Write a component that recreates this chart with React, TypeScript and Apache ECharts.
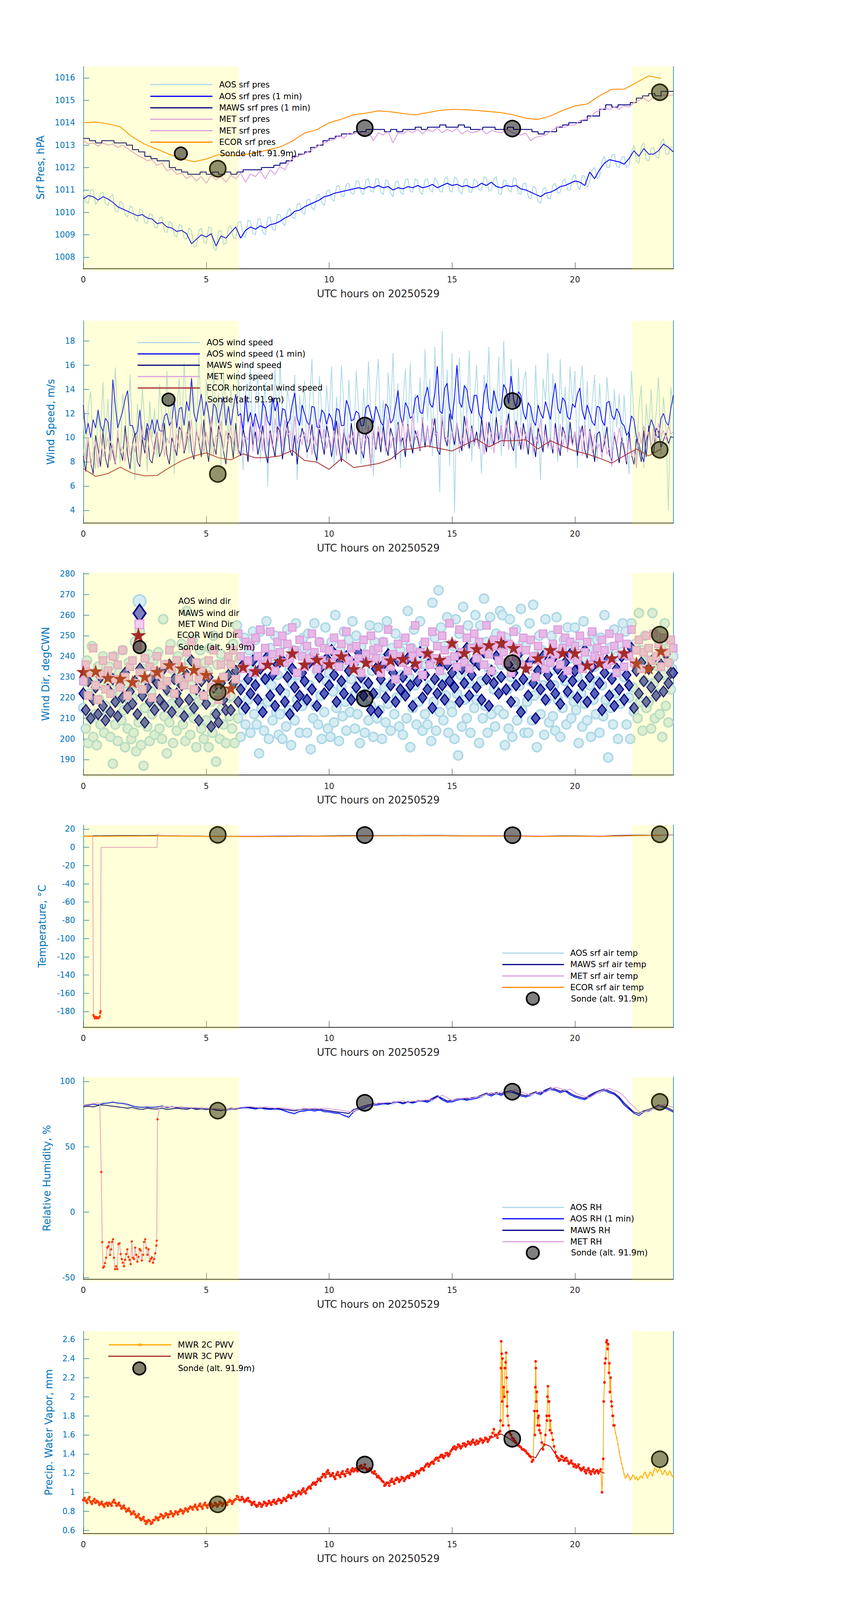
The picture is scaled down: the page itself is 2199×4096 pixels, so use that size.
import React, { useEffect, useRef } from 'react';
import * as echarts from 'echarts';

const FONT = 'DejaVu Sans';
const AXIS_BLUE = '#0072BD';
const DARK = '#262626';
const C_AOS = '#ADD8E6';
const C_AOS1 = '#0000FF';
const C_MAWS = '#000080';
const C_MET = '#DDA0DD';
const C_ECOR = '#FF8C00';
const C_BROWN = '#A52A2A';
const C_ORANGE = '#FFA500';
const C_FLAG = '#FF1A00';
const SONDE = 'Sonde (alt. 91.9m)';
const STAR = 'path://M50,0 L61.2,34.5 L97.6,34.5 L68.2,55.9 L79.4,90.5 L50,69.1 L20.6,90.5 L31.8,55.9 L2.4,34.5 L38.8,34.5 Z';
const ASTER = 'path://M50,0 L58,35 L93,25 L66,50 L93,75 L58,65 L50,100 L42,65 L7,75 L34,50 L7,25 L42,35 Z';

// sampling grids (hours UTC)
const hoursGrid = (start: number, step: number, n: number) =>
  Array.from({ length: n }, (_, i) => Math.round((start + i * step) * 1000) / 1000);
const H005 = hoursGrid(0, 0.05, 481);
const H01 = hoursGrid(0, 0.1, 241);
const H01_MID = hoursGrid(0.05, 0.1, 240);
const H02 = hoursGrid(0, 0.2, 121);
const H02_MID = hoursGrid(0.1, 0.2, 120);
const H025 = hoursGrid(0, 0.25, 97);
const H05 = hoursGrid(0, 0.5, 49);

const X_TICKS = [0, 5, 10, 15, 20];
const SHADE = [[0, 6.34], [22.33, 24]];

// ---------- Panel 1: surface pressure ----------
const Y_TICKS_PRES = [1008, 1009, 1010, 1011, 1012, 1013, 1014, 1015, 1016];
const PRES_AOS = [
  1010.9, 1010.4, 1011.0, 1010.5, 1010.9, 1010.3, 1010.8, 1010.0, 1010.4, 1009.8,
  1010.2, 1009.6, 1010.1, 1009.5, 1009.9, 1009.3, 1009.8, 1009.1, 1009.5, 1008.9,
  1009.4, 1008.8, 1009.2, 1008.5, 1009.3, 1008.6, 1009.3, 1008.3, 1009.2, 1008.6,
  1009.4, 1008.8, 1009.6, 1008.9, 1009.6, 1009.0, 1009.7, 1009.0, 1009.8, 1009.2,
  1009.9, 1009.4, 1010.2, 1009.7, 1010.4, 1009.9, 1010.6, 1010.1, 1010.8, 1010.3,
  1011.0, 1010.5, 1011.2, 1010.7, 1011.3, 1010.8, 1011.4, 1010.8, 1011.5, 1010.9,
  1011.5, 1010.8, 1011.4, 1010.7, 1011.4, 1010.8, 1011.5, 1010.9, 1011.4, 1010.8,
  1011.5, 1010.9, 1011.4, 1010.9, 1011.6, 1010.9, 1011.5, 1010.8, 1011.5, 1010.9,
  1011.4, 1011.0, 1011.5, 1011.0, 1011.6, 1010.8, 1011.4, 1010.9, 1011.5, 1010.8,
  1011.3, 1010.6, 1011.1, 1010.4, 1011.1, 1010.6, 1011.3, 1010.9, 1011.5, 1011.0,
  1011.7, 1011.0, 1011.6, 1011.4, 1012.0, 1011.6, 1012.5, 1012.0, 1012.6, 1012.0,
  1012.5, 1012.1, 1013.0, 1012.2, 1013.1, 1012.3, 1012.9, 1012.4, 1013.3, 1012.6,
  1012.9,
];
const PRES_AOS_MID = [
  1010.45, 1011.0, 1010.35, 1010.85, 1010.4, 1010.7, 1010.05, 1010.5, 1009.9, 1010.3,
  1009.7, 1010.15, 1009.55, 1009.95, 1009.35, 1009.75, 1009.15, 1009.6, 1009.0, 1009.45,
  1008.85, 1009.3, 1008.45, 1009.2, 1008.7, 1009.35, 1008.4, 1009.15, 1008.6, 1009.3,
  1008.9, 1009.55, 1008.95, 1009.65, 1009.05, 1009.7, 1009.1, 1009.75, 1009.25, 1009.9,
  1009.55, 1010.05, 1009.8, 1010.35, 1010.0, 1010.55, 1010.2, 1010.75, 1010.45, 1010.95,
  1010.6, 1011.15, 1010.75, 1011.25, 1010.85, 1011.4, 1010.9, 1011.45, 1010.95, 1011.5,
  1010.9, 1011.45, 1010.85, 1011.35, 1010.9, 1011.45, 1010.95, 1011.5, 1010.9, 1011.45,
  1011.0, 1011.55, 1010.95, 1011.5, 1011.0, 1011.55, 1010.95, 1011.45, 1010.9, 1011.5,
  1011.0, 1011.6, 1010.95, 1011.5, 1010.85, 1011.45, 1011.0, 1011.55, 1010.85, 1011.3,
  1010.7, 1011.15, 1010.5, 1011.05, 1010.65, 1011.2, 1010.85, 1011.4, 1011.0, 1011.55,
  1011.2, 1011.65, 1011.1, 1011.9, 1011.5, 1012.3, 1012.0, 1012.55, 1012.05, 1012.45,
  1012.0, 1012.7, 1012.3, 1012.95, 1012.35, 1012.85, 1012.5, 1013.1, 1012.6, 1012.95,
];
const PRES_AOS_1MIN = [
  1010.6, 1010.75, 1010.7, 1010.55, 1010.7, 1010.6, 1010.45, 1010.25, 1010.15, 1010.05,
  1009.95, 1009.85, 1009.9, 1009.75, 1009.7, 1009.5, 1009.55, 1009.35, 1009.3, 1009.15,
  1009.2, 1009.05, 1008.6, 1008.8, 1009.0, 1008.9, 1009.05, 1008.5, 1008.95, 1008.85,
  1009.1, 1009.35, 1008.85, 1009.2, 1009.35, 1009.25, 1009.4, 1009.3, 1009.45, 1009.5,
  1009.6, 1009.75, 1009.85, 1010.05, 1010.1, 1010.25, 1010.35, 1010.45, 1010.55, 1010.7,
  1010.75, 1010.85, 1010.9, 1010.95, 1011.0, 1011.05, 1011.1, 1011.05, 1011.15, 1011.1,
  1011.2, 1011.1, 1011.15, 1011.0, 1011.1, 1011.05, 1011.15, 1011.1, 1011.2, 1011.1,
  1011.15, 1011.25, 1011.1, 1011.2, 1011.3, 1011.2, 1011.25, 1011.15, 1011.2, 1011.1,
  1011.15, 1011.3, 1011.2, 1011.35, 1011.15, 1011.1, 1011.2, 1011.15, 1011.2, 1011.05,
  1011.0, 1010.9, 1010.8, 1010.7, 1010.85, 1010.9, 1011.0, 1011.15, 1011.2, 1011.3,
  1011.4, 1011.35, 1011.2, 1011.8, 1011.5, 1011.9, 1012.2, 1012.35, 1012.3, 1012.25,
  1012.15, 1012.4, 1012.75, 1012.5, 1012.85, 1012.6, 1012.6, 1012.75, 1013.05, 1012.9,
  1012.7,
];
const PRES_MAWS = [
  1013.3, 1013.2, 1013.1, 1013.2, 1013.2, 1013.1, 1013.1, 1013.0,
  1012.8, 1012.7, 1012.5, 1012.4, 1012.3, 1012.3, 1012.0, 1011.9,
  1011.8, 1011.7, 1011.7, 1011.8, 1011.7, 1011.8, 1011.7, 1011.8,
  1011.7, 1011.8, 1011.9, 1011.9, 1011.9, 1012.0, 1012.0, 1012.1,
  1012.2, 1012.3, 1012.5, 1012.6, 1012.7, 1012.9, 1013.0, 1013.2,
  1013.3, 1013.4, 1013.5, 1013.5, 1013.6, 1013.6, 1013.7, 1013.7,
  1013.7, 1013.6, 1013.7, 1013.6, 1013.7, 1013.7, 1013.8, 1013.7,
  1013.8, 1013.8, 1013.9, 1013.8, 1013.8, 1013.9, 1013.8, 1013.7,
  1013.7, 1013.8, 1013.8, 1013.7, 1013.7, 1013.8, 1013.7, 1013.7,
  1013.7, 1013.6, 1013.5, 1013.6, 1013.6, 1013.8, 1013.9, 1014.0,
  1014.0, 1014.1, 1014.3, 1014.3, 1014.6, 1014.8, 1014.7, 1014.8,
  1014.8, 1014.9, 1015.1, 1015.2, 1015.3, 1015.2, 1015.4, 1015.4,
  1015.4,
];
const PRES_MET = [
  1013.2, 1013.05, 1013.1, 1012.95, 1013.1, 1013.0, 1013.05, 1012.9, 1013.0, 1012.85,
  1012.7, 1012.55, 1012.45, 1012.3, 1012.35, 1012.1, 1012.2, 1011.85, 1011.95, 1011.7,
  1011.75, 1011.5, 1011.65, 1011.4, 1011.6, 1011.3, 1011.65, 1011.45, 1011.6, 1011.35,
  1011.65, 1011.5, 1011.75, 1011.35, 1011.7, 1011.6, 1011.85, 1011.5, 1011.9, 1011.7,
  1012.05, 1011.9, 1012.3, 1012.45, 1012.55, 1012.6, 1012.75, 1012.85, 1013.0, 1013.1,
  1013.2, 1013.25, 1013.45, 1013.3, 1013.55, 1013.5, 1013.6, 1013.45, 1013.6, 1013.2,
  1013.55, 1013.45, 1013.6, 1013.1, 1013.55, 1013.5, 1013.65, 1013.55, 1013.7, 1013.5,
  1013.7, 1013.6, 1013.75, 1013.55, 1013.7, 1013.6, 1013.75, 1013.5, 1013.65, 1013.55,
  1013.6, 1013.7, 1013.5, 1013.65, 1013.6, 1013.55, 1013.7, 1013.6, 1013.5, 1013.45,
  1013.55, 1013.2, 1013.35, 1013.4, 1013.45, 1013.6, 1013.75, 1013.85, 1013.8, 1013.9,
  1013.9, 1014.1, 1014.15, 1014.2, 1014.45, 1014.55, 1014.65, 1014.6, 1014.7, 1014.6,
  1014.75, 1014.7, 1014.9, 1015.0, 1015.1, 1014.95, 1015.15, 1015.05, 1015.25, 1015.2,
  1015.25,
];
const PRES_ECOR = [
  1014.0, 1014.03, 1013.95, 1013.82, 1013.36, 1013.04, 1012.82, 1012.59, 1012.4, 1012.26,
  1012.38, 1012.58, 1012.53, 1012.56, 1012.67, 1012.78, 1012.92, 1013.18, 1013.54, 1013.69,
  1014.0, 1014.16, 1014.36, 1014.43, 1014.53, 1014.49, 1014.41, 1014.35, 1014.45, 1014.55,
  1014.6, 1014.58, 1014.55, 1014.5, 1014.45, 1014.35, 1014.2, 1014.15, 1014.3, 1014.55,
  1014.75, 1014.84, 1015.2, 1015.49, 1015.5, 1015.79, 1016.09, 1015.98,
];
const PRES_SONDE = [[5.47, 1011.95], [11.45, 1013.76], [17.45, 1013.74], [23.45, 1015.36]];

// ---------- Panel 2: wind speed (0.1 h samples) ----------
const Y_TICKS_WS = [4, 6, 8, 10, 12, 14, 16, 18];
const WS_AOS = [
  11.5, 8.2, 12.6, 13.8, 9.1, 7.4, 12.0, 10.3, 14.6, 9.0,
  13.2, 8.5, 10.7, 15.8, 11.0, 7.9, 13.6, 12.1, 8.8, 15.2,
  10.4, 6.5, 12.8, 9.6, 14.1, 11.3, 7.2, 13.0, 10.0, 12.4,
  8.3, 14.4, 11.6, 9.4, 15.5, 10.8, 13.3, 7.0, 12.2, 14.9,
  9.8, 16.2, 12.5, 8.7, 15.0, 13.6, 10.2, 16.8, 11.4, 9.3,
  14.8, 12.0, 8.4, 16.0, 10.9, 13.7, 7.6, 15.3, 12.6, 9.9,
  14.2, 10.6, 8.9, 15.6, 12.3, 7.3, 13.9, 11.1, 16.1, 9.5,
  12.8, 15.4, 8.0, 11.7, 14.6, 6.0, 13.2, 10.4, 15.8, 9.2,
  16.4, 11.9, 8.6, 14.0, 12.7, 9.7, 15.2, 6.5, 13.5, 11.0,
  14.7, 8.3, 12.9, 16.5, 10.6, 7.9, 15.1, 12.2, 9.4, 14.3,
  11.6, 15.9, 7.5, 13.4, 10.1, 16.0, 12.6, 8.1, 14.8, 11.3,
  9.0, 15.5, 12.4, 7.8, 14.1, 10.7, 16.3, 12.0, 6.8, 13.7,
  16.5, 10.3, 13.1, 8.6, 15.4, 11.8, 17.0, 9.4, 14.5, 7.5,
  12.9, 15.7, 10.0, 16.2, 8.8, 13.6, 11.2, 15.0, 9.6, 17.3,
  11.4, 14.9, 8.5, 17.5, 12.1, 5.5, 18.8, 10.2, 15.6, 7.7,
  17.0, 3.8, 13.9, 16.6, 9.1, 14.4, 11.7, 17.2, 8.0, 13.0,
  16.0, 10.5, 7.0, 15.2, 12.8, 17.5, 9.0, 14.1, 11.6, 16.7,
  8.5, 18.0, 12.3, 9.5, 16.5, 13.2, 7.5, 15.8, 11.0, 14.6,
  15.5, 9.8, 12.7, 8.5, 16.0, 11.4, 6.5, 14.9, 13.1, 17.0,
  9.0, 15.3, 12.0, 8.0, 16.5, 10.9, 14.2, 9.5, 15.9, 12.6,
  15.5, 7.5, 13.8, 16.0, 10.2, 14.7, 9.0, 12.9, 15.2, 8.0,
  14.5, 11.3, 9.5, 15.0, 12.2, 8.5, 14.0, 10.8, 13.6, 9.2,
  13.5, 10.0, 7.0, 15.5, 11.6, 8.0, 12.5, 14.3, 7.5, 12.8,
  10.5, 14.0, 9.5, 12.0, 15.0, 8.6, 13.4, 11.0, 4.0, 14.2,
  12.5,
];
const WS_AOS_1MIN = [
  12.7, 10.3, 11.2, 10.0, 11.5, 10.8, 12.3, 11.0, 10.5, 11.6,
  11.3, 9.7, 14.8, 12.7, 10.8, 11.5, 12.2, 13.2, 13.9, 11.0,
  11.0, 10.2, 10.5, 12.3, 10.0, 9.8, 11.2, 10.5, 11.5, 10.3,
  11.5, 10.6, 10.5, 11.8, 12.0, 11.0, 11.4, 13.0, 10.8, 12.4,
  12.5, 11.0, 13.0, 12.2, 14.9, 12.0, 11.3, 12.5, 13.6, 11.8,
  13.0, 11.9, 10.5, 12.8, 12.5, 11.2, 12.3, 13.4, 11.0, 12.6,
  11.0, 12.4, 13.6, 11.8, 12.0, 10.6, 13.5, 11.3, 12.1, 10.9,
  12.0, 11.2, 10.5, 12.9, 12.5, 11.4, 11.0, 13.3, 12.2, 13.0,
  10.5, 12.4, 12.3, 11.1, 11.5, 12.8, 13.7, 11.6, 11.0, 12.7,
  12.0, 11.3, 11.0, 12.6, 12.5, 10.9, 10.8, 12.3, 12.0, 11.1,
  12.0, 11.6, 10.5, 12.4, 12.3, 11.0, 11.0, 13.1, 12.5, 11.4,
  11.5, 12.2, 12.0, 11.0, 11.0, 12.5, 12.7, 11.9, 11.2, 12.6,
  12.0, 11.3, 11.0, 12.8, 12.5, 11.2, 11.5, 12.6, 13.9, 11.8,
  11.0, 12.9, 12.5, 11.6, 11.8, 13.2, 13.5, 12.1, 12.0, 13.4,
  14.2, 12.8, 12.5, 13.6, 15.9, 12.2, 12.0, 14.1, 14.5, 12.4,
  11.5, 13.3, 16.0, 12.9, 12.5, 14.3, 14.0, 12.6, 12.0, 13.5,
  13.5, 12.0, 11.5, 13.6, 14.5, 12.4, 12.0, 13.9, 13.0, 12.2,
  12.5, 14.4, 14.0, 12.8, 15.1, 13.2, 12.5, 13.8, 13.5, 12.1,
  11.5, 12.9, 12.5, 11.4, 11.0, 12.7, 12.0, 11.6, 13.0, 12.3,
  11.5, 13.2, 14.5, 12.4, 12.0, 13.3, 13.0, 11.7, 11.5, 12.8,
  12.5, 13.6, 14.1, 12.2, 11.5, 12.7, 12.0, 11.3, 11.0, 12.6,
  12.5, 11.4, 11.0, 12.9, 13.0, 11.8, 11.5, 12.4, 12.0, 11.2,
  11.0, 10.2, 10.5, 11.8, 11.5, 10.1, 9.5, 8.6, 8.0, 9.8,
  10.5, 11.5, 11.0, 10.2, 10.0, 11.6, 12.0, 11.3, 11.0, 12.4,
  13.5,
];
const WS_MAWS = [
  8.5, 7.2, 9.8, 8.0, 7.0, 10.2, 9.1, 7.6, 10.5, 8.3,
  7.5, 9.6, 8.8, 7.8, 10.0, 9.0, 8.1, 11.0, 8.6, 7.4,
  9.5, 10.4, 8.0, 7.6, 9.9, 8.7, 10.8, 8.2, 7.9, 9.4,
  10.5, 8.4, 9.0, 11.2, 8.6, 7.8, 10.0, 9.3, 8.5, 10.9,
  10.5, 8.7, 9.6, 11.4, 9.0, 8.2, 10.6, 9.8, 8.4, 11.5,
  9.2, 8.0, 10.8, 9.5, 8.6, 11.0, 10.1, 8.9, 7.8, 10.4,
  10.0, 8.3, 11.2, 9.1, 8.5, 10.7, 9.8, 8.0, 11.3, 9.4,
  10.5, 8.6, 9.7, 11.0, 8.8, 7.9, 10.6, 9.5, 8.4, 10.9,
  10.5, 8.2, 9.9, 11.3, 9.0, 8.5, 10.2, 7.8, 9.6, 10.8,
  10.0, 8.8, 9.4, 11.1, 8.9, 8.1, 10.7, 9.7, 8.6, 11.0,
  10.0, 8.4, 9.8, 11.4, 9.2, 8.0, 10.5, 9.6, 8.7, 11.2,
  9.5, 8.6, 10.9, 9.1, 8.3, 10.4, 9.9, 7.6, 10.6, 9.0,
  10.5, 8.8, 11.0, 9.4, 8.5, 10.8, 10.0, 8.2, 11.3, 9.5,
  10.0, 8.4, 11.1, 9.7, 8.7, 10.6, 9.9, 8.9, 11.4, 9.2,
  11.0, 9.2, 10.3, 11.6, 9.0, 8.6, 11.5, 10.1, 9.3, 12.0,
  10.5, 9.4, 11.2, 9.8, 8.9, 11.8, 10.4, 9.1, 11.0, 9.6,
  10.5, 9.1, 11.6, 10.0, 8.8, 11.3, 10.2, 9.4, 11.7, 9.8,
  11.0, 9.3, 10.6, 12.0, 9.5, 8.9, 11.4, 10.3, 9.0, 11.2,
  10.0, 8.6, 11.0, 9.7, 8.4, 10.8, 9.9, 8.8, 11.1, 9.3,
  10.0, 8.7, 11.2, 9.6, 8.5, 10.9, 10.2, 9.0, 11.3, 9.5,
  10.5, 8.5, 10.1, 11.0, 9.0, 8.3, 10.7, 9.6, 8.0, 10.3,
  10.5, 8.8, 9.5, 10.9, 8.6, 8.1, 10.2, 9.2, 7.9, 10.0,
  9.0, 7.8, 10.5, 8.6, 7.8, 9.9, 9.0, 8.0, 10.6, 8.4,
  11.0, 9.1, 8.7, 10.8, 10.5, 9.2, 9.8, 10.4, 9.5, 10.1,
  10.0,
];
const WS_MET = [
  9.0, 8.2, 10.0, 7.6, 8.8, 9.7, 7.5, 10.3, 8.4, 9.2,
  10.0, 8.1, 9.5, 7.9, 10.6, 8.7, 9.3, 8.0, 10.1, 8.5,
  9.5, 8.8, 10.4, 7.8, 11.0, 9.2, 8.3, 10.7, 9.6, 8.6,
  10.5, 9.0, 11.2, 8.4, 10.0, 9.5, 11.6, 8.8, 10.3, 9.1,
  11.0, 8.9, 10.5, 9.7, 11.5, 8.6, 10.8, 9.4, 11.2, 8.7,
  10.5, 9.3, 11.8, 8.5, 10.2, 9.9, 11.4, 8.9, 10.6, 9.5,
  11.0, 9.4, 10.6, 8.6, 11.7, 9.2, 10.1, 9.8, 11.3, 8.8,
  11.5, 9.6, 10.9, 8.9, 12.0, 9.3, 10.4, 9.1, 11.6, 9.7,
  11.0, 9.2, 11.5, 10.1, 10.6, 9.0, 11.8, 9.5, 10.2, 9.4,
  10.5, 9.6, 11.1, 8.6, 10.1, 9.3, 11.6, 9.8, 10.7, 9.1,
  10.0, 9.2, 10.6, 8.5, 11.2, 9.0, 10.8, 8.6, 10.3, 9.4,
  10.5, 9.1, 11.3, 8.7, 10.4, 9.6, 11.0, 7.5, 10.7, 9.2,
  11.0, 9.7, 10.5, 8.8, 11.6, 9.1, 10.2, 9.6, 11.1, 9.3,
  11.5, 9.5, 11.0, 9.2, 12.0, 9.8, 10.6, 9.0, 11.7, 9.6,
  11.0, 9.3, 11.6, 10.2, 10.5, 9.1, 11.9, 9.7, 10.1, 9.4,
  10.5, 9.8, 11.2, 8.7, 10.2, 9.2, 11.7, 9.6, 10.8, 9.3,
  10.0, 9.1, 10.7, 8.6, 11.3, 9.2, 10.6, 8.7, 10.4, 9.5,
  11.0, 9.4, 11.5, 9.0, 10.6, 9.8, 11.1, 9.3, 10.9, 9.0,
  10.5, 9.7, 11.2, 8.8, 10.1, 9.5, 11.6, 9.4, 10.5, 9.1,
  10.0, 9.0, 10.8, 8.6, 11.1, 9.2, 10.5, 8.8, 10.2, 9.3,
  10.5, 9.2, 10.9, 8.5, 11.0, 9.1, 10.6, 8.7, 10.3, 9.0,
  9.5, 8.3, 10.2, 8.6, 9.2, 7.6, 10.5, 9.4, 10.8, 9.7,
  9.5, 8.0, 10.0, 8.5, 9.0, 7.5, 10.5, 9.5, 11.0, 10.0,
  10.5, 9.2, 10.8, 9.6, 11.2, 10.1, 10.6, 9.8, 11.0, 10.3,
  10.5,
];
const WS_ECOR = [
  7.44, 6.8, 7.03, 7.56, 7.06, 6.84, 6.88, 7.53, 8.1, 8.48,
  8.74, 8.34, 8.17, 8.66, 8.34, 8.36, 8.5, 8.95, 8.12, 7.98,
  7.38, 8.27, 7.53, 7.69, 7.86, 8.22, 9.01, 9.1, 9.32, 9.1,
  8.9, 9.4, 9.9, 9.24, 9.75, 9.75, 9.83, 9.07, 9.75, 9.3,
  8.9, 8.65, 8.3, 7.9, 8.5, 9.07, 8.5, 9.07,
];
const WS_SONDE = [[5.47, 7.0], [11.45, 11.0], [17.45, 13.03], [23.45, 9.0]];

// ---------- Panel 3: wind direction ----------
const Y_TICKS_WD = [190, 200, 210, 220, 230, 240, 250, 260, 270, 280];
const WD_AOS = [
  215, 228, 205, 238, 198, 222, 210, 245, 201, 230, 212, 197, 235, 219, 207, 226, 240, 203, 216, 232,
  212, 235, 201, 224, 188, 240, 207, 218, 199, 232, 222, 209, 243, 214, 196, 227, 205, 237, 218, 200,
  220, 203, 247, 194, 226, 208, 252, 197, 234, 187, 215, 229, 206, 241, 199, 223, 212, 238, 202, 231,
  216, 242, 205, 229, 200, 258, 211, 236, 193, 223, 208, 246, 217, 198, 233, 221, 204, 240, 213, 227,
  246, 207, 231, 199, 262, 214, 238, 202, 226, 248, 210, 221, 196, 235, 218, 243, 205, 229, 200, 237,
  209, 233, 196, 244, 218, 203, 250, 212, 189, 236, 224, 200, 241, 215, 207, 230, 198, 238, 220, 211,
  221, 205, 246, 198, 232, 255, 210, 239, 201, 226, 214, 249, 207, 235, 219, 243, 203, 229, 252, 212,
  248, 207, 235, 193, 252, 215, 240, 204, 229, 257, 218, 200, 244, 226, 209, 236, 250, 213, 231, 202,
  212, 238, 200, 246, 222, 206, 253, 214, 234, 197, 227, 243, 209, 256, 219, 231, 203, 241, 216, 249,
  244, 219, 203, 251, 226, 195, 240, 210, 256, 216, 233, 207, 247, 221, 200, 238, 213, 254, 228, 205,
  232, 201, 247, 223, 208, 260, 215, 238, 199, 243, 225, 211, 252, 218, 204, 236, 248, 213, 229, 257,
  221, 205, 250, 212, 236, 198, 245, 218, 229, 203, 241, 226, 209, 255, 216, 233, 201, 247, 222, 210,
  254, 214, 239, 200, 247, 225, 208, 257, 217, 235, 204, 244, 228, 212, 251, 220, 238, 206, 243, 231,
  202, 248, 222, 210, 262, 230, 196, 244, 215, 253, 226, 207, 239, 218, 257, 233, 204, 246, 212, 236,
  207, 241, 226, 199, 266, 218, 249, 204, 236, 272, 213, 254, 230, 209, 245, 221, 259, 203, 238, 216,
  213, 245, 200, 258, 222, 192, 251, 231, 206, 264, 219, 240, 210, 255, 227, 203, 248, 236, 215, 260,
  219, 240, 198, 255, 228, 210, 268, 216, 247, 203, 234, 259, 212, 243, 224, 206, 251, 230, 214, 262,
  236, 260, 212, 197, 249, 224, 205, 258, 230, 201, 244, 218, 253, 209, 238, 226, 263, 214, 247, 203,
  245, 218, 203, 256, 228, 209, 265, 221, 240, 196, 233, 250, 212, 243, 226, 202, 258, 219, 237, 208,
  233, 250, 211, 226, 204, 259, 219, 242, 201, 236, 215, 248, 228, 207, 254, 222, 239, 210, 245, 218,
  254, 214, 230, 198, 247, 222, 206, 257, 217, 239, 209, 244, 226, 201, 251, 219, 235, 212, 248, 228,
  203, 249, 226, 211, 260, 219, 236, 191, 244, 215, 230, 207, 253, 222, 240, 200, 246, 217, 233, 256,
  230, 252, 207, 241, 220, 200, 256, 225, 213, 246, 235, 210, 261, 218, 243, 204, 228, 250, 215, 238,
  218, 238, 205, 261, 227, 210, 250, 222, 235, 212, 244, 201, 231, 256, 216, 240, 208, 247, 224, 234,
  240,
];
const WD_MAWS = [
  222, 214, 228, 210, 219, 225, 212, 230, 216, 209,
  224, 213, 229, 218, 211, 226, 220, 232, 215, 223,
  217, 228, 212, 234, 221, 208, 225, 218, 230, 214,
  227, 219, 233, 216, 224, 236, 213, 229, 222, 218,
  226, 211, 231, 219, 238, 215, 224, 209, 228, 221,
  217, 230, 206, 225, 212, 208, 227, 219, 214, 231,
  214, 227, 233, 218, 224, 236, 215, 229, 222, 238,
  226, 219, 234, 213, 229, 240, 221, 231, 216, 236,
  224, 238, 218, 230, 212, 234, 225, 216, 221, 232,
  228, 219, 237, 224, 241, 216, 230, 235, 222, 239,
  226, 243, 231, 218, 237, 228, 222, 240, 233, 219,
  236, 225, 242, 230, 221, 238, 227, 214, 222, 234,
  213, 229, 236, 220, 241, 226, 232, 218, 238, 224,
  230, 221, 239, 226, 216, 235, 228, 242, 220, 231,
  224, 237, 215, 229, 222, 234, 226, 219, 236, 228,
  232, 225, 240, 218, 234, 227, 244, 221, 231, 238,
  225, 236, 219, 242, 229, 216, 233, 227, 240, 222,
  230, 245, 224, 236, 218, 232, 226, 241, 213, 229,
  235, 221, 238, 227, 210, 233, 224, 240, 219, 231,
  226, 239, 222, 234, 217, 230, 237, 223, 241, 228,
  233, 220, 236, 226, 243, 218, 230, 235, 222, 239,
  227, 214, 232, 238, 221, 229, 216, 234, 224, 240,
  219, 231, 226, 244, 215, 233, 222, 237, 228, 218,
  234, 225, 239, 221, 230, 236, 223, 241, 227, 232,
  232,
];
const WD_MET = [
  228, 236, 221, 232, 244, 226, 219, 231, 238, 224,
  233, 222, 240, 229, 236, 225, 243, 230, 221, 235,
  238, 227, 245, 232, 224, 239, 229, 235, 220, 233,
  240, 231, 226, 236, 228, 243, 234, 222, 238, 229,
  235, 226, 242, 230, 247, 224, 237, 229, 233, 221,
  231, 238, 225, 243, 227, 219, 236, 230, 222, 240,
  236, 243, 229, 251, 240, 234, 247, 238, 245, 232,
  249, 240, 253, 236, 244, 238, 252, 241, 233, 247,
  242, 250, 237, 246, 239, 254, 243, 232, 248, 240,
  235, 245, 239, 251, 242, 234, 247, 238, 244, 236,
  243, 237, 249, 241, 235, 246, 240, 252, 238, 244,
  236, 245, 239, 232, 248, 241, 237, 250, 243, 239,
  244, 232, 247, 238, 253, 235, 241, 229, 246, 240,
  237, 249, 233, 244, 240, 255, 236, 242, 231, 247,
  241, 236, 252, 239, 245, 233, 250, 243, 238, 256,
  246, 240, 235, 253, 242, 237, 249, 234, 244, 251,
  239, 247, 243, 236, 255, 241, 233, 248, 245, 238,
  250, 242, 237, 246, 232, 252, 240, 244, 236, 249,
  243, 235, 248, 240, 230, 245, 238, 251, 234, 242,
  237, 246, 241, 253, 236, 244, 249, 233, 247, 240,
  245, 238, 250, 234, 242, 247, 236, 252, 240, 244,
  239, 248, 243, 236, 251, 238, 245, 232, 249, 241,
  235, 246, 240, 253, 237, 243, 248, 234, 242, 250,
  244, 238, 251, 240, 246, 235, 249, 242, 237, 248,
  244,
];
const WD_ECOR = [
  232.6, 232.9, 229.7, 229.3, 227.7, 230.2, 232.6, 235.9, 234.3, 233.6,
  231.2, 227.7, 224.6, 235.0, 232.9, 236.1, 237.8, 241.6, 236.2, 238.5,
  236.4, 240.2, 234.0, 237.1, 234.8, 238.2, 238.9, 236.8, 241.7, 238.5,
  246.6, 241.7, 243.7, 245.6, 246.6, 244.2, 234.3, 239.2, 243.2, 241.7,
  241.7, 235.8, 236.8, 239.2, 241.7, 236.8, 234.3, 242.7,
];
const WD_SONDE = [[5.47, 222.7], [11.45, 219.6], [17.45, 236.7], [23.45, 250.5]];

// ---------- Panel 4: temperature ----------
const Y_TICKS_T = [-180, -160, -140, -120, -100, -80, -60, -40, -20, 0, 20];
const T_AOS = [
  12.2, 12.3, 12.4, 12.5, 12.5, 12.6, 12.6, 12.5, 12.4, 12.3,
  12.2, 12.1, 12.0, 11.9, 11.9, 12.0, 12.1, 12.2, 12.3, 12.3,
  12.4, 12.5, 12.6, 12.6, 12.7, 12.7, 12.8, 12.7, 12.8, 12.8,
  12.7, 12.6, 12.6, 12.5, 12.5, 12.4, 12.3, 12.1, 12.3, 12.4,
  12.4, 12.3, 12.1, 12.5, 12.8, 13.0, 13.1, 13.2, 13.3,
];
const T_MAWS = [
  12.5, 12.7, 12.8, 12.9, 12.9, 12.9, 13.0, 12.9, 12.7, 12.6,
  12.5, 12.4, 12.3, 12.2, 12.2, 12.3, 12.4, 12.5, 12.6, 12.6,
  12.7, 12.8, 12.9, 12.9, 13.0, 13.0, 13.1, 13.0, 13.1, 13.1,
  13.0, 12.9, 12.9, 12.8, 12.8, 12.7, 12.6, 12.4, 12.6, 12.7,
  12.7, 12.6, 12.4, 12.8, 13.1, 13.3, 13.4, 13.5, 13.6,
];
const T_ECOR = [
  12.0, 12.1, 12.2, 12.3, 12.3, 12.4, 12.4, 12.3, 12.2, 12.1,
  12.0, 11.9, 11.8, 11.7, 11.7, 11.8, 11.9, 12.0, 12.1, 12.1,
  12.2, 12.3, 12.4, 12.4, 12.5, 12.5, 12.6, 12.5, 12.6, 12.6,
  12.5, 12.4, 12.4, 12.3, 12.3, 12.2, 12.1, 11.8, 12.1, 12.2,
  12.2, 12.1, 11.9, 12.3, 12.6, 12.8, 12.9, 13.0,
];
const T_MET_HEAD = [[0, 12.6], [0.2, 12.7], [0.38, 12.8]];
const T_FLAG = [
  [0.413, -184.0], [0.436, -185.6], [0.466, -187.5], [0.504, -185.9], [0.534, -187.5], [0.564, -186.4],
  [0.594, -187.5], [0.625, -187.2], [0.647, -186.4], [0.67, -185.3], [0.685, -181.6], [0.7, -179.6],
];
const T_MET_MID = [[0.72, 0], [3.0, 0], [3.02, 14.6], [3.1, 12.9], [3.5, 12.8]];
const T_MET_TAIL = [
  12.7, 12.6, 12.5, 12.5, 12.4, 12.3, 12.2, 12.1, 12.1, 12.2,
  12.3, 12.4, 12.5, 12.5, 12.6, 12.7, 12.8, 12.8, 12.9, 12.9,
  13.0, 12.9, 13.0, 13.0, 12.9, 12.8, 12.8, 12.7, 12.7, 12.6,
  12.5, 12.3, 12.5, 12.6, 12.6, 12.5, 12.3, 12.7, 13.0, 13.2,
  13.3,
];
const T_SONDE = [[5.47, 13.7], [11.45, 13.5], [17.46, 13.3], [23.45, 14.3]];

// ---------- Panel 5: relative humidity ----------
const Y_TICKS_RH = [-50, 0, 50, 100];
const RH_AOS = [
  82.5, 81.0, 83.5, 81.5, 84.0, 82.5, 85.0, 82.5, 84.0, 81.5,
  82.0, 79.5, 81.0, 79.5, 81.0, 79.5, 82.0, 79.0, 81.5, 79.0,
  81.0, 78.5, 80.5, 78.0, 80.5, 78.0, 80.0, 77.5, 78.8, 77.2,
  79.5, 78.0, 80.5, 79.0, 80.5, 78.0, 80.5, 78.0, 79.5, 78.0,
  79.5, 76.5, 77.0, 74.5, 78.0, 76.5, 79.0, 76.5, 79.0, 76.0,
  77.5, 75.0, 76.5, 73.0, 73.5, 76.0, 79.5, 78.5, 82.0, 81.0,
  83.0, 82.0, 83.5, 82.5, 85.0, 82.0, 85.0, 82.5, 85.5, 84.0,
  85.0, 85.0, 89.5, 85.0, 85.0, 83.5, 86.5, 85.5, 86.5, 85.5,
  88.0, 87.5, 91.0, 88.0, 91.5, 88.5, 92.0, 91.0, 91.5, 88.0,
  89.0, 88.5, 92.0, 89.0, 93.5, 93.0, 94.0, 90.5, 93.5, 89.0,
  89.0, 86.0, 87.0, 87.5, 91.5, 91.0, 94.0, 90.5, 91.0, 86.0,
  83.0, 78.0, 76.5, 73.0, 77.5, 76.5, 80.0, 80.0, 81.0, 77.5,
  77.5,
];
const RH_AOS_1MIN = [
  81.5, 82.0, 82.5, 82.0, 83.0, 83.5, 84.0, 83.5, 83.0, 82.5,
  81.0, 80.5, 80.0, 80.5, 80.0, 80.5, 81.0, 80.0, 80.5, 80.0,
  80.0, 79.5, 79.8, 79.2, 79.5, 78.8, 79.2, 78.5, 77.8, 78.2,
  78.5, 79.0, 79.5, 80.0, 79.5, 79.0, 79.5, 79.0, 78.5, 79.0,
  78.5, 77.5, 76.0, 75.5, 77.0, 77.5, 78.0, 77.5, 78.0, 77.0,
  76.5, 76.0, 75.5, 74.0, 72.5, 77.0, 78.5, 79.5, 81.0, 82.0,
  82.0, 83.0, 82.5, 83.5, 84.0, 83.0, 84.0, 83.5, 84.5, 85.0,
  84.0, 86.0, 88.5, 86.0, 84.0, 84.5, 85.5, 86.5, 85.5, 86.5,
  87.0, 88.5, 90.0, 89.0, 90.5, 89.5, 91.0, 92.0, 90.5, 89.0,
  88.0, 89.5, 91.0, 90.0, 92.5, 94.0, 93.0, 91.5, 92.5, 90.0,
  88.0, 87.0, 86.0, 88.5, 90.5, 92.0, 93.0, 91.5, 90.0, 87.0,
  82.0, 79.0, 75.5, 74.0, 76.5, 77.5, 79.0, 81.0, 80.0, 78.5,
  76.5,
];
const RH_MAWS = [
  80.5, 81.0, 80.5, 81.5, 82.0, 81.5, 81.0, 80.5, 80.0, 79.5,
  80.0, 79.0, 78.5, 79.5, 79.0, 78.8, 79.5, 78.5, 79.0, 79.5,
  79.0, 78.5, 79.5, 78.5, 79.0, 78.5, 78.8, 78.0, 77.5, 78.5,
  79.5, 79.0, 80.0, 80.5, 80.0, 79.5, 80.0, 79.5, 79.0, 79.5,
  79.0, 78.5, 78.0, 77.5, 78.5, 78.5, 79.0, 78.5, 78.8, 78.0,
  77.5, 77.0, 76.5, 76.0, 75.5, 78.5, 79.5, 81.0, 82.0, 83.0,
  83.0, 83.5, 83.0, 84.0, 84.5, 83.5, 84.5, 84.0, 85.0, 85.5,
  85.0, 87.0, 89.0, 87.0, 85.0, 85.5, 86.5, 87.0, 86.5, 87.5,
  88.0, 89.5, 91.0, 90.0, 91.5, 90.5, 92.0, 93.0, 91.5, 90.0,
  89.0, 90.5, 92.0, 91.0, 93.5, 95.0, 94.0, 92.5, 93.5, 91.0,
  89.0, 88.0, 87.0, 89.5, 91.5, 93.0, 94.0, 92.5, 91.0, 88.0,
  83.5, 80.0, 76.5, 75.5, 77.5, 78.5, 80.0, 82.0, 81.0, 79.5,
  77.5,
];
const RH_MET_HEAD = [[0, 82.0], [0.2, 82.5], [0.4, 83.0], [0.6, 83.5], [0.67, 83.0]];
const RH_FLAG = [
  [0.73, 30.7], [0.768, -22.9], [0.806, -42.4], [0.844, -41.5], [0.882, -38.9], [0.927, -34.8],
  [0.972, -27.1], [1.01, -26.2], [1.048, -22.9], [1.086, -32.6], [1.131, -28.4], [1.169, -22.7],
  [1.207, -20.7], [1.245, -34.8], [1.29, -43.5], [1.336, -41.3], [1.381, -43.5], [1.427, -24.4],
  [1.472, -23.8], [1.517, -32.0], [1.563, -35.8], [1.608, -38.6], [1.654, -41.3], [1.699, -36.4],
  [1.745, -32.0], [1.79, -28.4], [1.835, -34.2], [1.881, -36.4], [1.926, -39.7], [1.972, -22.4],
  [2.017, -34.8], [2.062, -35.8], [2.108, -27.1], [2.153, -32.6], [2.199, -37.8], [2.244, -34.2],
  [2.29, -28.2], [2.335, -29.3], [2.38, -36.9], [2.426, -32.6], [2.471, -22.7], [2.517, -20.7],
  [2.562, -27.3], [2.608, -32.6], [2.653, -28.4], [2.698, -37.5], [2.744, -35.8], [2.789, -34.5],
  [2.835, -38.6], [2.88, -35.8], [2.926, -31.5], [2.971, -25.5], [2.987, -21.8], [3.017, 71.0],
];
const RH_MET_TAIL = [
  80.5, 80.8, 80.2, 80.6, 80.3,
  80.2, 79.8, 80.0, 79.5, 79.8, 79.0, 79.5, 79.0, 78.5, 79.0,
  79.5, 80.0, 80.5, 80.8, 80.2, 79.8, 80.5, 80.0, 79.5, 80.0,
  79.5, 79.0, 78.5, 78.5, 79.5, 79.0, 79.5, 79.0, 79.5, 79.0,
  78.5, 78.0, 77.5, 77.0, 76.5, 79.0, 80.5, 81.5, 82.5, 83.5,
  83.5, 84.0, 83.5, 84.5, 85.0, 84.0, 85.0, 84.5, 85.5, 86.0,
  85.5, 87.5, 89.5, 87.5, 85.5, 86.0, 87.0, 87.5, 87.0, 88.0,
  88.5, 90.0, 91.5, 90.5, 92.0, 91.0, 92.5, 93.5, 92.0, 90.5,
  89.5, 91.0, 92.5, 91.5, 94.0, 95.5, 94.5, 93.0, 94.0, 91.5,
  89.5, 88.5, 87.5, 90.0, 92.0, 93.5, 94.5, 93.0, 91.5, 88.5,
  84.0, 80.5, 77.0, 76.0, 78.0, 79.0, 80.5, 82.5, 81.5, 80.0,
  78.0,
];
const RH_SONDE = [[5.47, 77.6], [11.45, 83.6], [17.45, 92.1], [23.45, 84.3]];

// ---------- Panel 6: precipitable water vapour ----------
const Y_TICKS_PWV = [0.6, 0.8, 1, 1.2, 1.4, 1.6, 1.8, 2, 2.2, 2.4, 2.6];
const PWV_2C = [
  0.92, 0.91, 0.93, 0.90, 0.91, 0.89, 0.90, 0.88, 0.87, 0.88,
  0.86, 0.88, 0.90, 0.89, 0.87, 0.86, 0.84, 0.83, 0.81, 0.80,
  0.78, 0.77, 0.75, 0.73, 0.72, 0.70, 0.69, 0.70, 0.68, 0.71,
  0.73, 0.74, 0.76, 0.75, 0.77, 0.77, 0.78, 0.77, 0.79, 0.80,
  0.81, 0.80, 0.82, 0.83, 0.84, 0.85, 0.84, 0.86, 0.85, 0.87,
  0.86, 0.87, 0.88, 0.86, 0.88, 0.87, 0.89, 0.88, 0.89, 0.90,
  0.91, 0.90, 0.93, 0.95, 0.92, 0.93, 0.91, 0.94, 0.90, 0.89,
  0.87, 0.86, 0.88, 0.87, 0.89, 0.88, 0.89, 0.90, 0.89, 0.91,
  0.92, 0.91, 0.93, 0.95, 0.96, 0.97, 0.99, 0.98, 1.00, 1.02,
  1.01, 1.03, 1.06, 1.08, 1.10, 1.11, 1.14, 1.16, 1.19, 1.21,
  1.20, 1.18, 1.16, 1.19, 1.18, 1.20, 1.19, 1.22, 1.21, 1.23,
  1.22, 1.25, 1.24, 1.28, 1.26, 1.25, 1.22, 1.24, 1.20, 1.19,
  1.17, 1.14, 1.11, 1.08, 1.10, 1.12, 1.11, 1.13, 1.14, 1.13,
  1.15, 1.14, 1.17, 1.18, 1.20, 1.19, 1.22, 1.23, 1.25, 1.27,
  1.30, 1.29, 1.32, 1.34, 1.36, 1.37, 1.39, 1.38, 1.41, 1.40,
  1.45, 1.48, 1.47, 1.49, 1.48, 1.51, 1.50, 1.52, 1.53, 1.52,
  1.54, 1.53, 1.55, 1.54, 1.56, 1.55, 1.58, 1.66, 1.60, 1.62,
  2.58, 2.10, 2.46, 1.70, 1.60, 1.56, 1.52, 1.49, 1.47, 1.45,
  1.43, 1.40, 1.37, 1.34, 2.37, 1.78, 1.62, 1.45, 1.60, 2.11,
  1.75, 1.55, 1.42, 1.36, 1.34, 1.37, 1.35, 1.33, 1.31, 1.30,
  1.29, 1.27, 1.25, 1.24, 1.22, 1.23, 1.21, 1.22, 1.20, 1.23,
  1.22, 1.00, 2.15, 2.59, 2.35, 1.90, 1.70, 1.57, 1.42, 1.30,
  1.19, 1.17, 1.16, 1.15, 1.17, 1.16, 1.14, 1.17, 1.19, 1.18,
  1.18, 1.20, 1.22, 1.24, 1.23, 1.22, 1.20, 1.21, 1.19, 1.20,
  1.16,
];
const PWV_2C_MID = [
  0.94, 0.89, 0.95, 0.88, 0.93, 0.91, 0.87, 0.90, 0.85, 0.89,
  0.89, 0.86, 0.92, 0.86, 0.89, 0.83, 0.86, 0.80, 0.83, 0.77,
  0.80, 0.74, 0.77, 0.71, 0.74, 0.67, 0.71, 0.67, 0.71, 0.74,
  0.71, 0.77, 0.73, 0.78, 0.74, 0.80, 0.75, 0.80, 0.77, 0.82,
  0.78, 0.83, 0.80, 0.85, 0.82, 0.87, 0.82, 0.88, 0.83, 0.89,
  0.84, 0.89, 0.85, 0.89, 0.85, 0.90, 0.86, 0.91, 0.87, 0.92,
  0.88, 0.92, 0.96, 0.92, 0.95, 0.90, 0.93, 0.91, 0.87, 0.90,
  0.85, 0.89, 0.85, 0.90, 0.86, 0.91, 0.87, 0.92, 0.88, 0.93,
  0.89, 0.94, 0.91, 0.97, 0.94, 1.00, 0.96, 1.01, 0.98, 1.04,
  0.99, 1.05, 1.04, 1.10, 1.08, 1.14, 1.12, 1.19, 1.16, 1.23,
  1.17, 1.20, 1.14, 1.21, 1.16, 1.22, 1.17, 1.24, 1.19, 1.25,
  1.24, 1.22, 1.27, 1.25, 1.29, 1.23, 1.25, 1.21, 1.22, 1.16,
  1.15, 1.12, 1.07, 1.10, 1.07, 1.14, 1.09, 1.15, 1.11, 1.16,
  1.12, 1.16, 1.15, 1.20, 1.17, 1.22, 1.20, 1.25, 1.23, 1.29,
  1.27, 1.31, 1.30, 1.36, 1.33, 1.39, 1.36, 1.41, 1.38, 1.43,
  1.47, 1.45, 1.50, 1.46, 1.51, 1.48, 1.53, 1.50, 1.55, 1.50,
  1.51, 1.56, 1.52, 1.57, 1.53, 1.58, 1.62, 1.60, 1.57, 1.64,
  2.40, 2.30, 2.05, 1.62, 1.57, 1.54, 1.50, 1.48, 1.45, 1.44,
  1.41, 1.38, 1.32, 1.85, 2.05, 1.70, 1.52, 1.50, 1.80, 1.95,
  1.62, 1.48, 1.38, 1.33, 1.38, 1.33, 1.36, 1.30, 1.33, 1.27,
  1.26, 1.29, 1.23, 1.26, 1.20, 1.25, 1.19, 1.24, 1.22, 1.20,
  1.24, 1.35, 2.40, 2.55, 2.20, 1.80, 1.62, 1.50, 1.36, 1.25,
  1.15, 1.19, 1.13, 1.18, 1.14, 1.13, 1.16, 1.15, 1.21, 1.15,
  1.21, 1.17, 1.25, 1.21, 1.26, 1.19, 1.23, 1.18, 1.22, 1.17,
];
const PWV_SPIKES = [
  [16.97, 1.75], [16.99, 2.3], [17.02, 2.45], [17.04, 1.95], [17.07, 1.7], [17.13, 2.0], [17.16, 2.3],
  [17.18, 2.36], [17.22, 2.2], [17.24, 1.9], [17.26, 1.8],
  [18.37, 1.6], [18.39, 2.1], [18.41, 2.3], [18.43, 1.95], [18.46, 1.85], [18.48, 1.7], [18.52, 1.8], [18.55, 1.65],
  [18.86, 1.75], [18.88, 2.0], [18.92, 1.95], [18.95, 1.8], [18.98, 1.65],
  [21.17, 1.95], [21.22, 2.35], [21.28, 2.57], [21.33, 2.5], [21.38, 2.25], [21.42, 2.05],
  [21.48, 1.95], [21.53, 1.8], [21.57, 1.7],
];
const PWV_FLAG_END = 21.6;
const PWV_3C = [
  0.91, 0.92, 0.90, 0.89, 0.88, 0.87, 0.89, 0.88, 0.85, 0.82,
  0.78, 0.75, 0.72, 0.70, 0.69, 0.73, 0.75, 0.76, 0.77, 0.79,
  0.80, 0.82, 0.84, 0.85, 0.85, 0.87, 0.87, 0.86, 0.88, 0.89,
  0.90, 0.93, 0.92, 0.92, 0.89, 0.87, 0.87, 0.88, 0.89, 0.90,
  0.91, 0.93, 0.95, 0.98, 0.99, 1.00, 1.05, 1.09, 1.13, 1.18,
  1.19, 1.17, 1.18, 1.19, 1.20, 1.22, 1.24, 1.26, 1.24, 1.20,
  1.16, 1.10, 1.09, 1.11, 1.13, 1.14, 1.16, 1.18, 1.21, 1.24,
  1.29, 1.31, 1.35, 1.37, 1.39, 1.44, 1.47, 1.48, 1.50, 1.51,
  1.53, 1.54, 1.55, 1.57, 1.59, 1.61, 1.58, 1.55, 1.51, 1.47,
  1.42, 1.38, 1.36, 1.45, 1.50, 1.48, 1.40, 1.35, 1.33, 1.31,
  1.29, 1.26, 1.24, 1.23, 1.21, 1.22, 1.20,
];
const PWV_SONDE = [[5.47, 0.874], [11.45, 1.29], [17.45, 1.56], [23.45, 1.346]];

// ---------- layout ----------
const W = 2199;
const H = 4096;
const GRID_LEFT = 213.3;
const GRID_W = 1510.3;
const GRID_H = 517.5;
const GRID_TOPS = [170.2, 821.0, 1466.6, 2112.2, 2757.2, 3408.0];
const TICK_FS = 20.5;
const NAME_FS = 26;
const LEG_FS = 21;
const LH = 24;

const PANELS = [
  { yName: 'Srf Pres, hPA', min: 1007.49, max: 1016.51, ticks: Y_TICKS_PRES, nameGap: 96 },
  { yName: 'Wind Speed, m/s', min: 2.96, max: 19.67, ticks: Y_TICKS_WS, nameGap: 70.5 },
  { yName: 'Wind Dir, degCWN', min: 182.5, max: 280.45, ticks: Y_TICKS_WD, nameGap: 83 },
  { yName: 'Temperature, \u00B0C', min: -197.3, max: 24.4, ticks: Y_TICKS_T, nameGap: 92 },
  { yName: 'Relative Humidity, %', min: -51.2, max: 103.3, ticks: Y_TICKS_RH, nameGap: 80.7 },
  { yName: 'Precip. Water Vapor, mm', min: 0.57, max: 2.685, ticks: Y_TICKS_PWV, nameGap: 75 },
];

const pts = (hours: number[], vals: number[]) => vals.map((v, i) => [hours[i], v]);
const merged = (...parts: number[][][]) => ([] as number[][]).concat(...parts).sort((a, b) => a[0] - b[0]);

function line(name: string, p: number, data: any[], color: string, width: number, extra: any = {}) {
  return {
    type: 'line', name, xAxisIndex: p, yAxisIndex: 2 * p, data,
    symbol: 'none', showSymbol: false, silent: true,
    lineStyle: { color, width }, itemStyle: { color }, z: 2, ...extra,
  };
}
function scatter(name: string, p: number, data: any[], symbol: string, size: any, style: any, z = 3) {
  return {
    type: 'scatter', name, xAxisIndex: p, yAxisIndex: 2 * p, data, symbol, symbolSize: size,
    symbolKeepAspect: true, itemStyle: style, silent: true, z,
  };
}
const SONDE_STYLE = { color: 'rgba(0,0,0,0.5)', borderColor: '#000', borderWidth: 4, opacity: 1 };
const sonde = (p: number, data: any[]) => scatter(SONDE, p, data, 'circle', 41, SONDE_STYLE, 5);
const flags = (p: number, data: any[], size = 6) =>
  scatter('flag' + p, p, data, 'circle', size, { color: C_FLAG, opacity: 1 }, 4);

function shade(p: number) {
  const y0 = PANELS[p].min;
  return {
    type: 'custom', xAxisIndex: p, yAxisIndex: 2 * p, silent: true, z: 10, clip: false,
    data: SHADE.map(([a, b]) => [a, y0, b]),
    renderItem: (params: any, api: any) => {
      const cs = params.coordSys;
      const a = api.coord([api.value(0), api.value(1)]);
      const b = api.coord([api.value(2), api.value(1)]);
      return {
        type: 'rect',
        shape: { x: a[0], y: cs.y, width: b[0] - a[0], height: cs.height + 6 },
        style: { fill: 'rgba(255,255,0,0.15)' },
      };
    },
  };
}

function legendItem(name: string, left: number, cy: number, w: number, h: number, textX: number, item: any) {
  return {
    show: true, selectedMode: false, z: 30, padding: 0, itemGap: 0, orient: 'horizontal',
    left, top: cy - Math.max(h, LH) / 2, itemWidth: w, itemHeight: h,
    textStyle: {
      fontFamily: FONT, fontSize: LEG_FS, color: '#000', lineHeight: LH,
      padding: [0, 0, 0, Math.max(0, textX - left - w - 5)],
    },
    data: [{ name, ...item }],
  };
}
const legLine = (name: string, color: string, left: number, w: number, cy: number, textX: number) =>
  legendItem(name, left, cy, w, 3, textX, { icon: 'rect', itemStyle: { color, borderWidth: 0 } });
const legMarker = (name: string, icon: string, cx: number, cy: number, w: number, h: number, textX: number, style: any) =>
  legendItem(name, cx - w / 2, cy, w, h, textX, { icon, itemStyle: style });
const SONDE_LEG_STYLE = { color: 'rgba(0,0,0,0.5)', borderColor: '#000', borderWidth: 4 };

function buildOption() {
  const grid: any[] = [];
  const xAxis: any[] = [];
  const yAxis: any[] = [];
  PANELS.forEach((pn, i) => {
    grid.push({ left: GRID_LEFT, top: GRID_TOPS[i], width: GRID_W, height: GRID_H, containLabel: false, outerBoundsMode: 'none' });
    xAxis.push({
      type: 'value', gridIndex: i, min: 0, max: 24,
      axisLine: { show: true, onZero: false, lineStyle: { color: DARK, width: 2 } },
      axisTick: { show: true, inside: true, length: 16, customValues: X_TICKS, lineStyle: { color: DARK, width: 1 } },
      axisLabel: { show: true, customValues: X_TICKS, color: DARK, fontSize: TICK_FS, fontFamily: FONT, margin: 18 },
      splitLine: { show: false },
      name: 'UTC hours on 20250529', nameLocation: 'middle', nameGap: 51,
      nameTextStyle: { color: DARK, fontSize: NAME_FS, fontFamily: FONT },
    });
    yAxis.push({
      type: 'value', gridIndex: i, position: 'left', min: pn.min, max: pn.max,
      axisLine: { show: true, onZero: false, lineStyle: { color: AXIS_BLUE, width: 1.5 } },
      axisTick: { show: true, inside: true, length: 15, customValues: pn.ticks, lineStyle: { color: AXIS_BLUE, width: 1.5 } },
      axisLabel: { show: true, customValues: pn.ticks, color: AXIS_BLUE, fontSize: TICK_FS, fontFamily: FONT, margin: 21, formatter: (v: number) => String(v) },
      splitLine: { show: false },
      name: pn.yName, nameLocation: 'middle', nameGap: pn.nameGap, nameRotate: 90,
      nameTextStyle: { color: AXIS_BLUE, fontSize: NAME_FS, fontFamily: FONT },
    });
    yAxis.push({
      type: 'value', gridIndex: i, position: 'right', min: pn.min, max: pn.max,
      axisLine: { show: true, onZero: false, lineStyle: { color: AXIS_BLUE, width: 1.5 } },
      axisTick: { show: false }, axisLabel: { show: false }, splitLine: { show: false },
    });
  });

  const presAos = merged(pts(H02, PRES_AOS), pts(H02_MID, PRES_AOS_MID));
  const metTemp = [...T_MET_HEAD, ...T_FLAG, ...T_MET_MID, ...pts(H05.slice(8), T_MET_TAIL)];
  const metRH = [...RH_MET_HEAD, ...RH_FLAG, [3.1, 80.5], ...pts(H02.slice(16), RH_MET_TAIL)];
  const pwv2c = merged(pts(H01, PWV_2C), pts(H01_MID, PWV_2C_MID), PWV_SPIKES);
  const pwvFlags = pwv2c.filter(([h]) => h <= PWV_FLAG_END);

  const series: any[] = [
    // Panel 1
    line('AOS srf pres', 0, presAos, C_AOS, 2.3),
    line('AOS srf pres (1 min)', 0, pts(H02, PRES_AOS_1MIN), C_AOS1, 2.3),
    line('MAWS srf pres (1 min)', 0, pts(H025, PRES_MAWS), C_MAWS, 2.3, { step: 'end' }),
    line('MET srf pres', 0, pts(H02, PRES_MET), C_MET, 2.3),
    line('MET srf pres', 0, [], C_MET, 2.3),
    line('ECOR srf pres', 0, pts(H05, PRES_ECOR), C_ECOR, 2.3),
    sonde(0, PRES_SONDE),
    shade(0),
    // Panel 2
    line('AOS wind speed', 1, pts(H01, WS_AOS), C_AOS, 2),
    line('AOS wind speed (1 min)', 1, pts(H01, WS_AOS_1MIN), C_AOS1, 2),
    line('MAWS wind speed', 1, pts(H01, WS_MAWS), C_MAWS, 1.8),
    line('MET wind speed', 1, pts(H01, WS_MET), C_MET, 2),
    line('ECOR horizontal wind speed', 1, pts(H05, WS_ECOR), C_BROWN, 2),
    sonde(1, WS_SONDE),
    shade(1),
    // Panel 3
    scatter('AOS wind dir', 2, pts(H005, WD_AOS), 'circle', 23, { color: '#d6ecf3', borderColor: C_AOS, borderWidth: 4, opacity: 1 }, 3),
    scatter('MAWS wind dir', 2, pts(H01, WD_MAWS), 'diamond', [22, 28], { color: '#5560b8', borderColor: C_MAWS, borderWidth: 3, opacity: 1 }, 3),
    scatter('MET Wind Dir', 2, pts(H01, WD_MET), 'rect', 19, { color: '#E6B8E6', borderColor: C_MET, borderWidth: 3, opacity: 1 }, 3),
    scatter('ECOR Wind Dir', 2, pts(H05, WD_ECOR), STAR, 36, { color: C_BROWN, opacity: 1 }, 4),
    sonde(2, WD_SONDE),
    shade(2),
    // Panel 4
    line('AOS srf air temp', 3, pts(H05, T_AOS), C_AOS, 2.2),
    line('MAWS srf air temp', 3, pts(H05, T_MAWS), C_MAWS, 2),
    line('MET srf air temp', 3, metTemp, C_MET, 2.2),
    line('ECOR srf air temp', 3, pts(H05, T_ECOR), C_ECOR, 2.5),
    flags(3, T_FLAG),
    sonde(3, T_SONDE),
    shade(3),
    // Panel 5
    line('AOS RH', 4, pts(H02, RH_AOS), C_AOS, 2.5),
    line('AOS RH (1 min)', 4, pts(H02, RH_AOS_1MIN), C_AOS1, 2.2),
    line('MAWS RH', 4, pts(H02, RH_MAWS), C_MAWS, 2.2),
    line('MET RH', 4, metRH, C_MET, 2.2),
    flags(4, RH_FLAG),
    sonde(4, RH_SONDE),
    shade(4),
    // Panel 6
    line('MWR 2C PWV', 5, pwv2c, C_ORANGE, 2, { symbol: ASTER, showSymbol: true, symbolSize: 6, itemStyle: { color: C_ORANGE } }),
    line('MWR 3C PWV', 5, pts(H02, PWV_3C), C_BROWN, 2.5),
    flags(5, pwvFlags, 7),
    sonde(5, PWV_SONDE),
    shade(5),
  ];

  const legend: any[] = [];
  const p1 = ['AOS srf pres', 'AOS srf pres (1 min)', 'MAWS srf pres (1 min)', 'MET srf pres', 'MET srf pres', 'ECOR srf pres'];
  const p1c = [C_AOS, C_AOS1, C_MAWS, C_MET, C_MET, C_ECOR];
  const p1y = [216.6, 246.6, 276.0, 305.3, 334.6, 363.9];
  p1.forEach((n, k) => legend.push(legLine(n, p1c[k], 384.6, 159.3, p1y[k], 561)));
  legend.push(legMarker(SONDE, 'circle', 461, 391, 32, 32, 561, SONDE_LEG_STYLE));

  const p2 = ['AOS wind speed', 'AOS wind speed (1 min)', 'MAWS wind speed', 'MET wind speed', 'ECOR horizontal wind speed'];
  const p2c = [C_AOS, C_AOS1, C_MAWS, C_MET, C_BROWN];
  const p2y = [877, 906, 935, 963.9, 993.2];
  p2.forEach((n, k) => legend.push(legLine(n, p2c[k], 352.4, 159.3, p2y[k], 528.9)));
  legend.push(legMarker(SONDE, 'circle', 429.4, 1021, 32, 32, 528.9, SONDE_LEG_STYLE));

  legend.push(legMarker('AOS wind dir', 'circle', 355.3, 1537, 32, 32, 454.2, { color: '#d6ecf3', borderColor: C_AOS, borderWidth: 4 }));
  legend.push(legMarker('MAWS wind dir', 'diamond', 355.3, 1568, 32, 45, 454.2, { color: '#7f7fbf', borderColor: C_MAWS, borderWidth: 4 }));
  legend.push(legMarker('MET Wind Dir', 'rect', 355.3, 1597.6, 22, 22, 454.2, { color: '#F0D0F0', borderColor: C_MET, borderWidth: 3 }));
  legend.push(legMarker('ECOR Wind Dir', STAR, 355.3, 1625.5, 42, 38, 454.2, { color: C_BROWN, borderWidth: 0 }));
  legend.push(legMarker(SONDE, 'circle', 355.3, 1654.5, 32, 32, 454.2, SONDE_LEG_STYLE));

  const p4 = ['AOS srf air temp', 'MAWS srf air temp', 'MET srf air temp', 'ECOR srf air temp'];
  const p4c = [C_AOS, C_MAWS, C_MET, C_ECOR];
  const p4y = [2440.0, 2469.2, 2498.5, 2527.8];
  p4.forEach((n, k) => legend.push(legLine(n, p4c[k], 1285.8, 157.8, p4y[k], 1459.8)));
  legend.push(legMarker(SONDE, 'circle', 1362, 2554.5, 32, 32, 1459.8, SONDE_LEG_STYLE));

  const p5 = ['AOS RH', 'AOS RH (1 min)', 'MAWS RH', 'MET RH'];
  const p5c = [C_AOS, C_AOS1, C_MAWS, C_MET];
  const p5y = [3091.0, 3120.1, 3149.5, 3178.8];
  p5.forEach((n, k) => legend.push(legLine(n, p5c[k], 1285.8, 157.8, p5y[k], 1459.8)));
  legend.push(legMarker(SONDE, 'circle', 1362, 3205.1, 32, 32, 1459.8, SONDE_LEG_STYLE));

  legend.push(legendItem('MWR 2C PWV', 277.2, 3442.7, 160.1, 16, 453.8,
    { itemStyle: { color: C_ORANGE, borderWidth: 0 }, lineStyle: { color: C_ORANGE, width: 3 } }));
  legend.push(legLine('MWR 3C PWV', C_BROWN, 277.2, 160.1, 3472.0, 453.8));
  legend.push(legMarker(SONDE, 'circle', 354.7, 3501.2, 32, 32, 453.8, SONDE_LEG_STYLE));

  return {
    animation: false,
    backgroundColor: '#ffffff',
    textStyle: { fontFamily: FONT },
    grid, xAxis, yAxis, legend, series,
  };
}

export default function App() {
  const ref = useRef<HTMLDivElement>(null);
  useEffect(() => {
    if (!ref.current) return;
    const chart = echarts.init(ref.current, null, { renderer: 'svg', width: W, height: H });
    chart.setOption(buildOption() as any);
    return () => chart.dispose();
  }, []);
  return (
    <div
      ref={ref}
      style={{ position: 'absolute', left: 0, top: 0, width: W, height: H, background: '#fff' }}
    />
  );
}
